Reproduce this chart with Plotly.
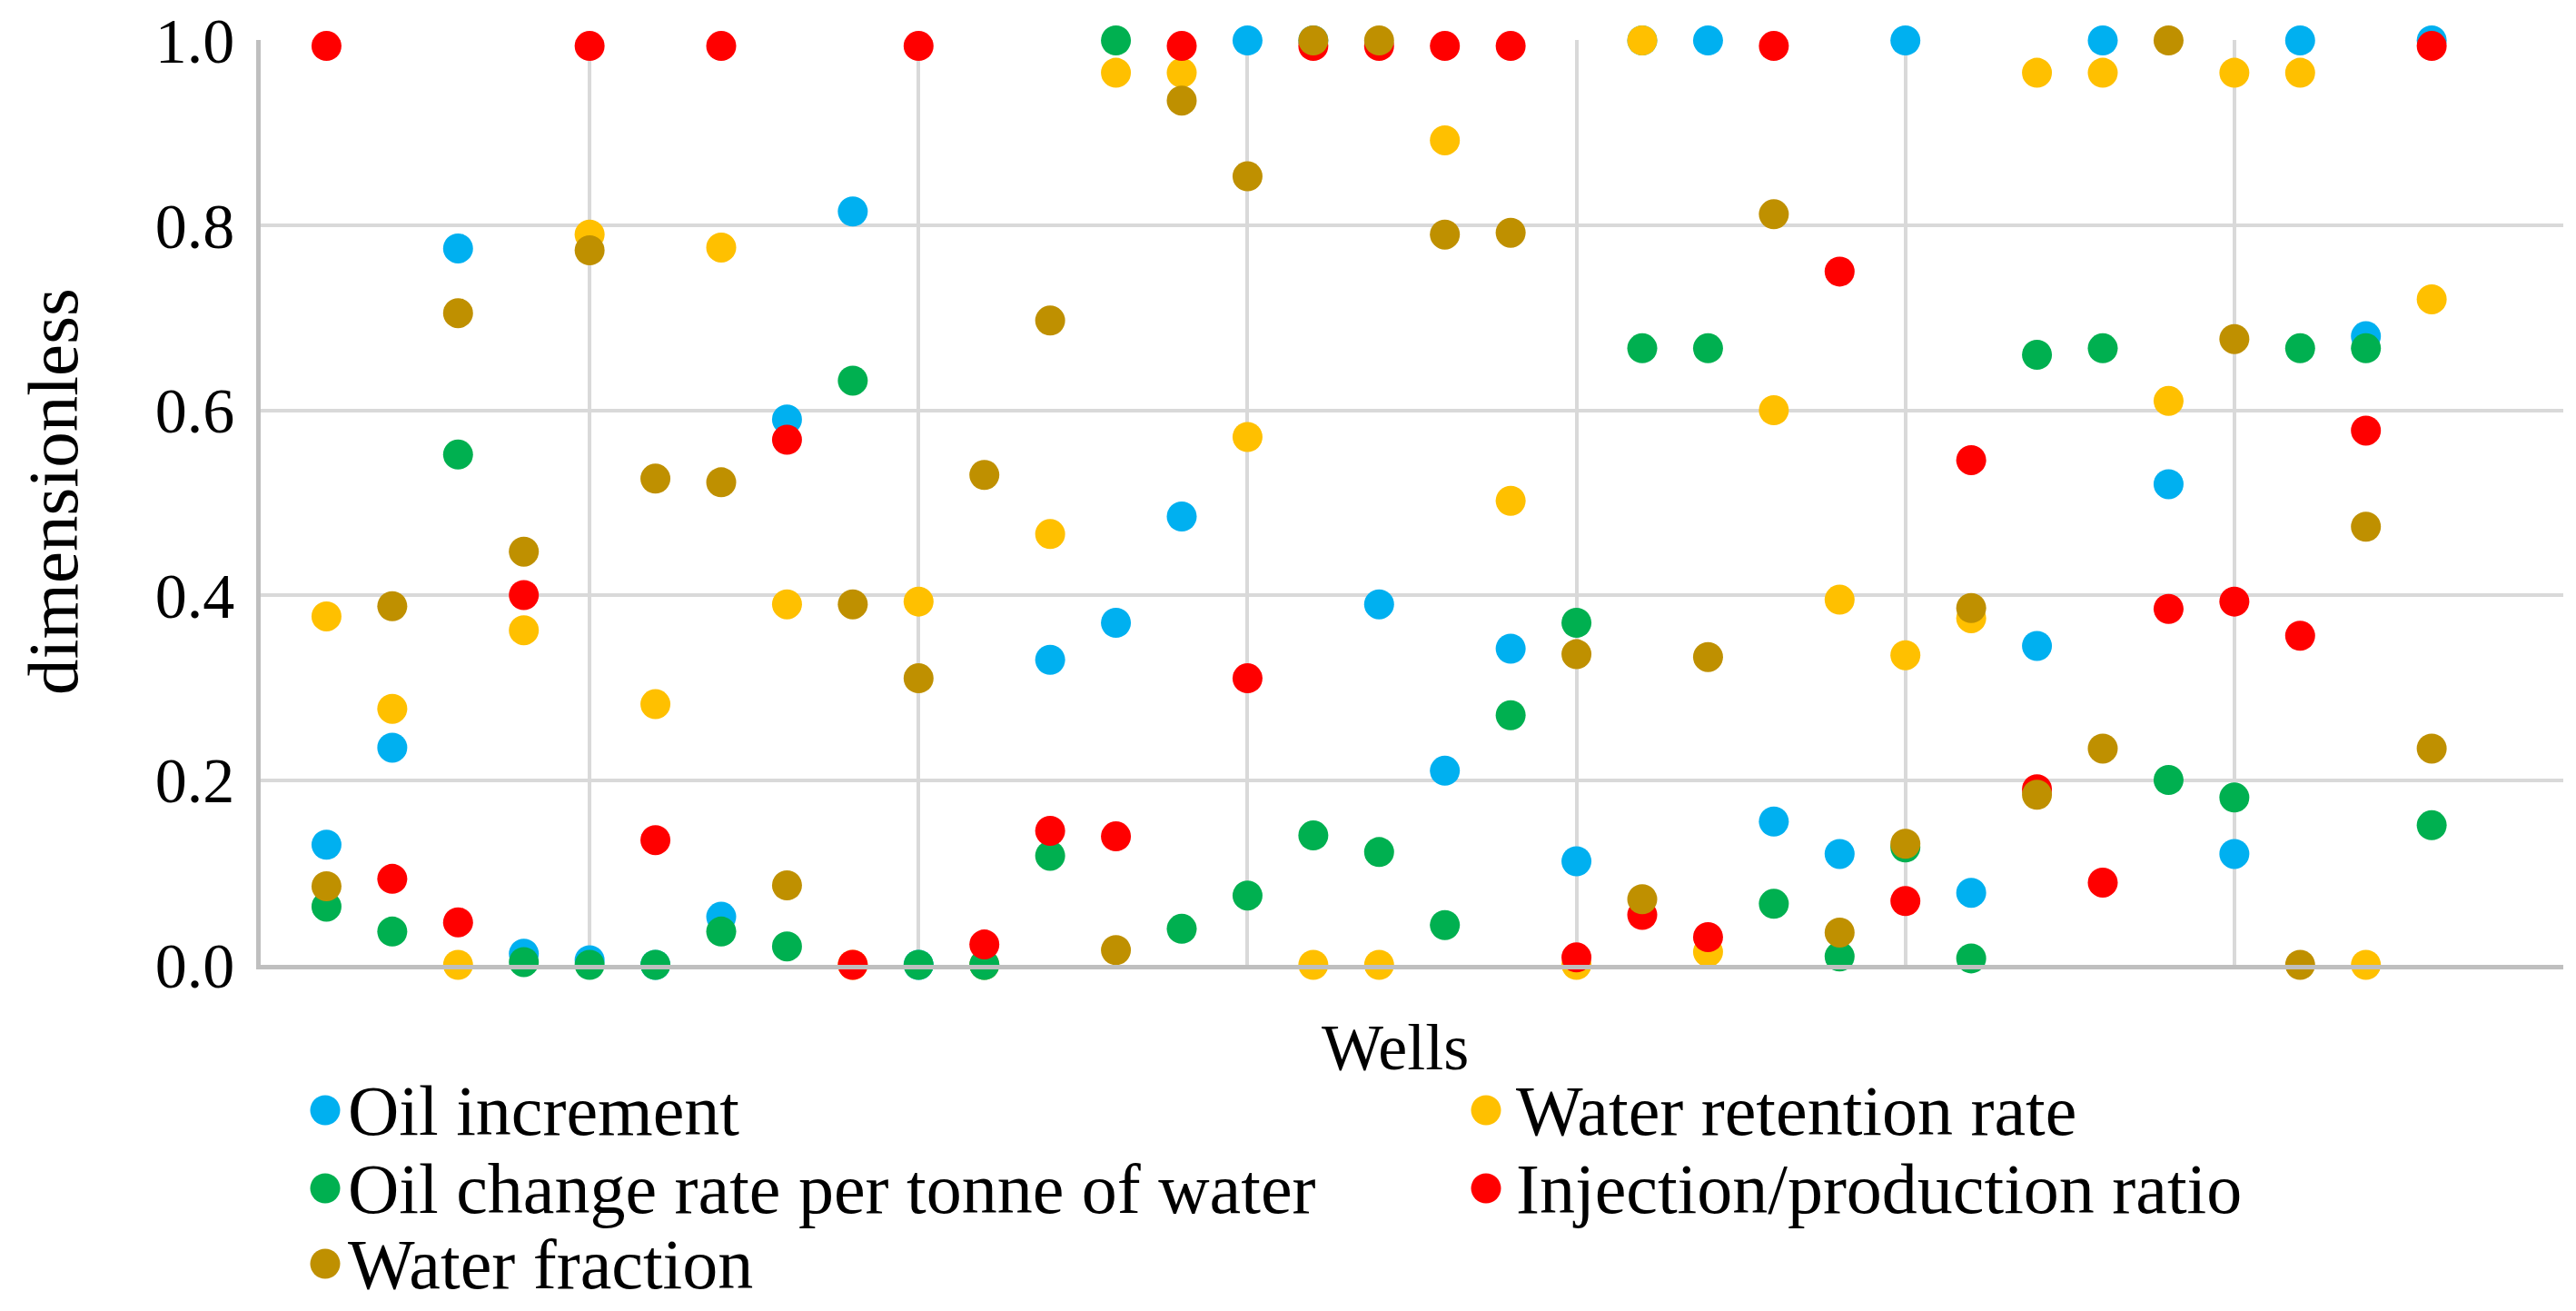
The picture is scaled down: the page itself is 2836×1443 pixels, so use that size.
import plotly.graph_objects as go

# ---------------- data ----------------
wells = list(range(1, 34))

series_names = [
    "Oil increment",
    "Water retention rate",
    "Oil change rate per tonne of water",
    "Injection/production ratio",
    "Water fraction",
]
series_colors = ["#00B0F0", "#FFC000", "#00B050", "#FF0000", "#BF9000"]

oil_increment = [0.13, 0.235, 0.775, 0.012, 0.005, 0.0, 0.052, 0.59, 0.815, 0.0,
                 0.0, 0.33, 0.37, 0.485, 1.0, 1.0, 0.39, 0.21, 0.342, 0.112,
                 1.0, 1.0, 0.155, 0.12, 1.0, 0.078, 0.345, 1.0, 0.52, 0.12,
                 1.0, 0.68, 1.0]
water_retention = [0.377, 0.277, 0.0, 0.362, 0.79, 0.282, 0.776, 0.39, 0.0, 0.393,
                   0.0, 0.466, 0.965, 0.965, 0.571, 0.0, 0.0, 0.892, 0.502, 0.0,
                   1.0, 0.014, 0.6, 0.395, 0.335, 0.375, 0.965, 0.965, 0.61, 0.965,
                   0.965, 0.0, 0.72]
oil_change_rate = [0.063, 0.036, 0.552, 0.003, 0.0, 0.0, 0.036, 0.02, 0.632, 0.0,
                   0.0, 0.118, 1.0, 0.039, 0.075, 0.14, 0.122, 0.043, 0.27, 0.37,
                   0.667, 0.667, 0.066, 0.009, 0.127, 0.007, 0.66, 0.667, 0.2, 0.181,
                   0.667, 0.667, 0.151]
injection_production = [0.994, 0.093, 0.046, 0.40, 0.994, 0.135, 0.994, 0.568, 0.0, 0.994,
                        0.022, 0.145, 0.139, 0.994, 0.31, 0.994, 0.994, 0.994, 0.994, 0.008,
                        0.054, 0.03, 0.994, 0.75, 0.069, 0.546, 0.19, 0.089, 0.385, 0.393,
                        0.356, 0.578, 0.994]
water_fraction = [0.085, 0.388, 0.705, 0.447, 0.773, 0.526, 0.522, 0.086, 0.39, 0.31,
                  0.53, 0.697, 0.016, 0.935, 0.853, 1.0, 1.0, 0.79, 0.792, 0.336,
                  0.071, 0.333, 0.812, 0.035, 0.131, 0.386, 0.184, 0.234, 1.0, 0.677,
                  0.0, 0.474, 0.234]

y_ticks = [0.0, 0.2, 0.4, 0.6, 0.8, 1.0]
y_tick_labels = ["0.0", "0.2", "0.4", "0.6", "0.8", "1.0"]
x_title = "Wells"
y_title = "dimensionless"

all_series = [oil_increment, water_retention, oil_change_rate,
              injection_production, water_fraction]

# ---------------- layout constants (figure pixels) ----------------
# the page body has an 8px margin, so the figure is 8px smaller than the window
W, H = 2828, 1435
PL, PR, PT, PB = 279, 2814, 36, 1054
FONT = "Liberation Serif, Times New Roman, serif"


def fx(px):
    return (px - PL) / (PR - PL)


def fy(py):
    return (PB - py) / (PB - PT)


fig = go.Figure()
for name, color, vals in zip(series_names, series_colors, all_series):
    fig.add_trace(go.Scatter(
        x=wells, y=vals, name=name, mode="markers",
        marker=dict(color=color, size=33, line=dict(width=0)),
        cliponaxis=False, showlegend=False,
    ))

annotations = [
    dict(text=x_title, x=fx(1528), y=fy(1145), xref="paper", yref="paper",
         xanchor="center", yanchor="middle", showarrow=False,
         font=dict(family=FONT, size=72, color="#000000")),
    dict(text=y_title, x=fx(50), y=fy(533), xref="paper", yref="paper",
         xanchor="center", yanchor="middle", textangle=-90, showarrow=False,
         font=dict(family=FONT, size=79, color="#000000")),
]
shapes = []

# legend: two columns, three rows
col_marker_x = [350, 1628]
col_text_x = [373, 1659]
row_y = [1214, 1300, 1383]
for i, (name, color) in enumerate(zip(series_names, series_colors)):
    r, c = divmod(i, 2)
    shapes.append(dict(type="circle", xref="paper", yref="paper",
                       xsizemode="pixel", ysizemode="pixel",
                       xanchor=fx(col_marker_x[c]), yanchor=fy(row_y[r]),
                       x0=-16.5, x1=16.5, y0=-16.5, y1=16.5,
                       fillcolor=color, line=dict(width=0)))
    annotations.append(dict(text=name, x=fx(col_text_x[c]), y=fy(row_y[r]),
                            xref="paper", yref="paper", xanchor="left",
                            yanchor="middle", showarrow=False,
                            font=dict(family=FONT, size=78, color="#000000")))

fig.update_layout(
    width=W, height=H,
    margin=dict(l=PL, r=W - PR, t=PT, b=H - PB, pad=0, autoexpand=False),
    paper_bgcolor="white", plot_bgcolor="white",
    font=dict(family=FONT, size=70, color="#000000"),
    showlegend=False,
    xaxis=dict(range=[0, 35], tick0=0, dtick=5, showticklabels=False, ticks="",
               showgrid=True, gridcolor="#D9D9D9", gridwidth=3.5, zeroline=False,
               showline=True, linecolor="#BFBFBF", linewidth=4.5, automargin=False),
    yaxis=dict(range=[0, 1.0005], tickvals=y_ticks, ticktext=y_tick_labels, ticks="",
               showgrid=True, gridcolor="#D9D9D9", gridwidth=3.5, zeroline=False,
               showline=True, linecolor="#BFBFBF", linewidth=4.5, automargin=False,
               ticklabelstandoff=10, ticklabeloverflow="allow",
               tickfont=dict(family=FONT, size=70, color="#000000")),
    annotations=annotations,
    shapes=shapes,
)

fig.write_html("out.html")
